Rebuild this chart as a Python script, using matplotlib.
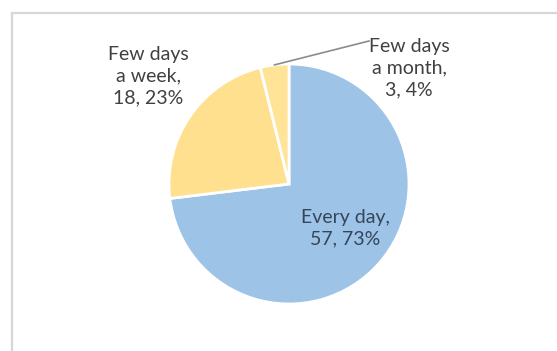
import numpy as np
import matplotlib
matplotlib.use("Agg")
import matplotlib.pyplot as plt
from matplotlib.patches import Rectangle

categories = ["Every day", "Few days\na week", "Few days\na month"]
values = [57, 18, 3]
percents = [73, 23, 4]
colors = ["#9dc3e6", "#ffe08f", "#ffe396"]

W, H = 557, 351
fig = plt.figure(figsize=(W / 100, H / 100), dpi=100)
fig.patch.set_facecolor("white")

# light chart frame
fig.patches.append(Rectangle((12 / W, -0.1), 1.2, (H - 13) / H + 0.1,
                             transform=fig.transFigure, fill=False,
                             edgecolor="#d6d6d6", linewidth=1.6))

ax = fig.add_axes([0, 0, 1, 1])
cx, cy, r = 289, H - 184, 120
wedges, _ = ax.pie(values, colors=colors, startangle=90, counterclock=False,
                   center=(cx, cy), radius=r, frame=False,
                   wedgeprops=dict(edgecolor="white", linewidth=2.0))
ax.set_xlim(0, W)
ax.set_ylim(0, H)
ax.set_aspect("equal")
ax.axis("off")

font = dict(family=["Lato", "DejaVu Sans"], fontsize=14, ha="center",
            va="center", linespacing=1.35)

def lab(i):
    return f"{categories[i]},\n{values[i]}, {percents[i]}%"

ax.text(345, H - 228, lab(0), color="#34465c", **font)
ax.text(148, H - 76, lab(1), color="#404040", **font)
ax.text(409, H - 68, lab(2), color="#404040", **font)

# leader line for the small slice
w = wedges[2]
mid = np.deg2rad((w.theta1 + w.theta2) / 2)
px, py = cx + r * np.cos(mid), cy + r * np.sin(mid)
ax.plot([px, 369], [py, H - 41], color="#8c8c8c", linewidth=1.2)

fig.savefig("out.png", dpi=100)
